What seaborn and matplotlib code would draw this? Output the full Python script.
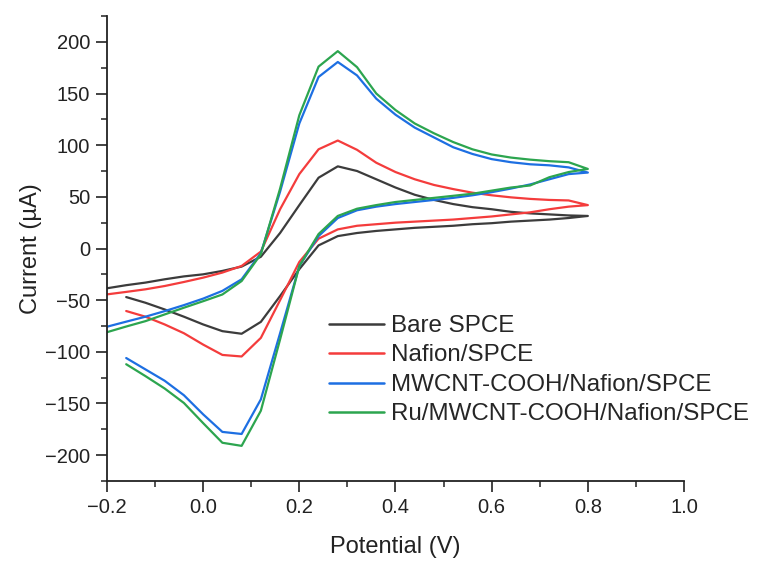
import numpy as np
import pandas as pd
import matplotlib
matplotlib.use("Agg")
import matplotlib.pyplot as plt
import seaborn as sns
from matplotlib.ticker import MultipleLocator

# ---- data -------------------------------------------------------------
labels = ["Bare SPCE", "Nafion/SPCE", "MWCNT-COOH/Nafion/SPCE",
          "Ru/MWCNT-COOH/Nafion/SPCE"]
colors = ["#3c3c3c", "#f43c3c", "#1d6fe2", "#2ca54f"]

# forward (anodic) sweep potentials, V
e_fwd = [-0.20, -0.16, -0.12, -0.08, -0.04, 0.00, 0.04, 0.08, 0.12, 0.16,
         0.20, 0.24, 0.28, 0.32, 0.36, 0.40, 0.44, 0.48, 0.52, 0.56,
         0.60, 0.64, 0.68, 0.72, 0.76, 0.80]
# reverse (cathodic) sweep potentials, V
e_rev = [0.76, 0.72, 0.68, 0.64, 0.60, 0.56, 0.52, 0.48, 0.44, 0.40,
         0.36, 0.32, 0.28, 0.24, 0.20, 0.16, 0.12, 0.08, 0.04, 0.00,
         -0.04, -0.08, -0.12, -0.16]

bare_fwd = [-38.5, -35.5, -33, -29.8, -27, -25, -21.7, -17.5, -8, 15,
            42, 68.5, 79.5, 75, 67, 59, 52, 47, 43, 40,
            38, 35.5, 34, 33, 32, 31.5]
bare_rev = [29.5, 28, 27, 26, 24.5, 23.5, 22, 21, 20, 18.5,
            17, 15, 12, 3, -20, -46, -71, -82.5, -80, -73.5,
            -66, -59, -52.5, -47]

nafion_fwd = [-44.4, -42, -39.5, -36.3, -32.4, -28.2, -23.3, -16.9, -3, 38,
              72, 96, 104.5, 95.5, 83, 74, 67, 61.5, 57.5, 54,
              51.5, 49.5, 48, 47, 46.5, 42]
nafion_rev = [40.5, 38, 35, 33, 31, 29.5, 28, 27, 26, 25,
              23.5, 22, 18.5, 9.5, -13, -50, -86.5, -104.5, -103, -93,
              -82, -73.5, -66, -60.5]

mwcnt_fwd = [-75.7, -70.8, -66, -60.6, -54.8, -48.5, -41, -29.8, -4.5, 55,
             121, 166, 180.5, 167.5, 145, 129.5, 117, 107.5, 98, 91.5,
             86.5, 83.5, 81.5, 80.5, 78.5, 73.5]
mwcnt_rev = [72, 67, 62, 58, 54.5, 51.5, 49, 47, 45, 43,
             40.5, 37, 29.5, 12, -17, -82, -146, -179.5, -177.5, -160.5,
             -142, -128, -117, -106]

ru_fwd = [-81, -75.5, -70.3, -63.8, -57.3, -51, -44.5, -31.5, -5.5, 58,
          129, 176, 191, 175.5, 150, 134, 121, 111.5, 103, 96,
          91, 88, 86, 84.5, 83.5, 77]
ru_rev = [74, 69, 61, 59, 56, 53, 51, 49, 47, 45,
          42, 38.5, 31.5, 14, -17, -88, -157, -191, -188, -169,
          -149.5, -135.5, -123.5, -112]

x_ticks = [-0.2, 0.0, 0.2, 0.4, 0.6, 0.8, 1.0]
y_ticks = [-200, -150, -100, -50, 0, 50, 100, 150, 200]

# ---- build long table ---------------------------------------------------
series = [(bare_fwd, bare_rev), (nafion_fwd, nafion_rev),
          (mwcnt_fwd, mwcnt_rev), (ru_fwd, ru_rev)]
frames = []
for lab, (fwd, rev) in zip(labels, series):
    pot = list(e_fwd) + list(e_rev)
    cur = list(fwd) + list(rev)
    frames.append(pd.DataFrame({"Potential": pot, "Current": cur,
                                "Electrode": lab, "step": range(len(pot))}))
df = pd.concat(frames, ignore_index=True)

# ---- plot --------------------------------------------------------------
sns.set_theme(style="ticks")
plt.rcParams["font.family"] = ["Liberation Sans", "DejaVu Sans"]

fig = plt.figure(figsize=(7.78, 5.80), dpi=100)
ax = fig.add_axes([0.1375, 0.1707, 0.7417, 0.8017])

sns.lineplot(data=df, x="Potential", y="Current", hue="Electrode",
             hue_order=labels, palette=colors, sort=False, estimator=None,
             units="Electrode", linewidth=1.6, ax=ax)

ax.set_xlim(-0.2, 1.0)
ax.set_ylim(-225, 225)
ax.set_xticks(x_ticks)
ax.set_xticklabels([f"{v:.1f}".replace("-", "\u2212") for v in x_ticks])
ax.set_yticks(y_ticks)
ax.set_yticklabels([f"{v}".replace("-", "\u2212") for v in y_ticks])
ax.xaxis.set_minor_locator(MultipleLocator(0.1))
ax.yaxis.set_minor_locator(MultipleLocator(25))

for s in ["top", "right"]:
    ax.spines[s].set_visible(False)
for s in ["left", "bottom"]:
    ax.spines[s].set_linewidth(1.3)
    ax.spines[s].set_color("#222222")

ax.tick_params(which="major", direction="out", length=8, width=1.2,
               color="#222222", labelsize=14.5, labelcolor="#222222", pad=4)
ax.tick_params(which="minor", direction="out", length=4, width=1.1,
               color="#222222")

ax.set_xlabel("Potential (V)", fontsize=17, color="#222222", labelpad=14)
ax.set_ylabel("Current (\u00b5A)", fontsize=17, color="#222222", labelpad=2)

leg = ax.legend(loc="upper left", bbox_to_anchor=(0.385, 0.357),
                frameon=False, fontsize=17.4, handlelength=2.27,
                handletextpad=0.3, labelspacing=0.31, borderaxespad=0,
                borderpad=0)
for h in leg.get_lines():
    h.set_linewidth(1.8)

fig.savefig("out.png", dpi=100)
